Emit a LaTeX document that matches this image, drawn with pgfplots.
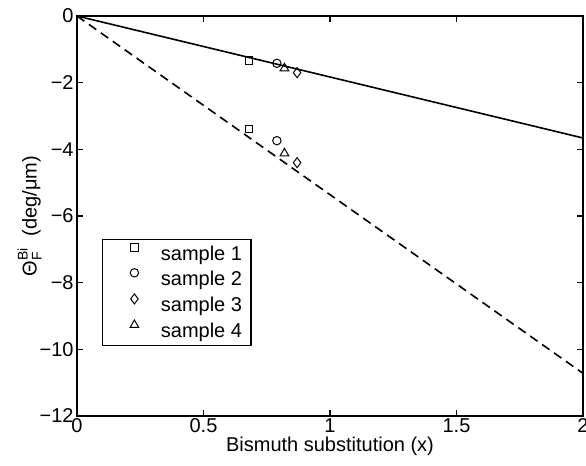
\documentclass[border=0pt]{standalone}
\usepackage{fontspec}
\setmainfont{Liberation Sans}
\usepackage{amsmath}
\usepackage{pgfplots}
\pgfplotsset{compat=1.18}

\begin{document}
\begin{tikzpicture}
\begin{axis}[
    name=ax,
    scale only axis,
    width=253pt, height=200pt,
    xmin=0, xmax=2, ymin=-12, ymax=0,
    xtick={0,0.5,1,1.5,2},
    xticklabels={0,0.5,1,1.5,2},
    ytick={-12,-10,-8,-6,-4,-2,0},
    yticklabels={−12,−10,−8,−6,−4,−2,0},
    tick align=inside,
    major tick length=2.8pt,
    tick style={black, line width=0.6pt},
    axis line style={line width=0.6pt},
    ticklabel style={font=\fontsize{10}{11}\selectfont},
    xticklabel style={inner sep=1pt},
    yticklabel style={inner sep=1.5pt},
    xlabel={Bismuth substitution (x)},
    ylabel={$\text{Θ}_{\text{F}}^{\text{Bi}}$\ \ (deg/μm)},
    label style={font=\fontsize{10}{11}\selectfont},
    xlabel style={yshift=2.5pt},
    ylabel style={yshift=-6pt},
    legend style={
        at={(rel axis cs:0.05,0.442)}, anchor=north west,
        draw=black, line width=0.6pt,
        font=\fontsize{10}{11}\selectfont,
        inner xsep=4.5pt, inner ysep=1.95pt,
        row sep=2.2pt, column sep=0pt,
        nodes={inner sep=0pt, text height=7.5pt, text depth=2pt},
    },
    legend cell align=left,
    legend image code/.code={
        \path (0pt,0pt) (24pt,0pt);
        \draw[line width=0.5pt] plot coordinates {(11pt,3.6pt)};
    },
]
\addplot[black, line width=0.8pt, forget plot] coordinates {(0,0) (2,-3.66)};
\addplot[black, line width=0.8pt, dash pattern=on 4.5pt off 2.8pt, forget plot] coordinates {(0,0) (2,-10.72)};

\addplot[only marks, mark=square, mark size=1.9pt, black, line width=0.5pt] coordinates {(0.68,-1.34) (0.68,-3.39)};
\addlegendentry{sample 1}
\addplot[only marks, mark=o, mark size=2.1pt, black, line width=0.5pt] coordinates {(0.79,-1.42) (0.79,-3.74)};
\addlegendentry{sample 2}
\addplot[only marks, mark=diamond, mark size=2.5pt, black, line width=0.5pt] coordinates {(0.87,-1.70) (0.87,-4.40)};
\addlegendentry{sample 3}
\addplot[only marks, mark=triangle, mark size=2.5pt, black, line width=0.5pt] coordinates {(0.82,-1.57) (0.82,-4.12)};
\addlegendentry{sample 4}
\end{axis}
\pgfresetboundingbox
\useasboundingbox (-38.5pt,-25pt) rectangle (254.5pt,208pt);
\end{tikzpicture}
\end{document}
